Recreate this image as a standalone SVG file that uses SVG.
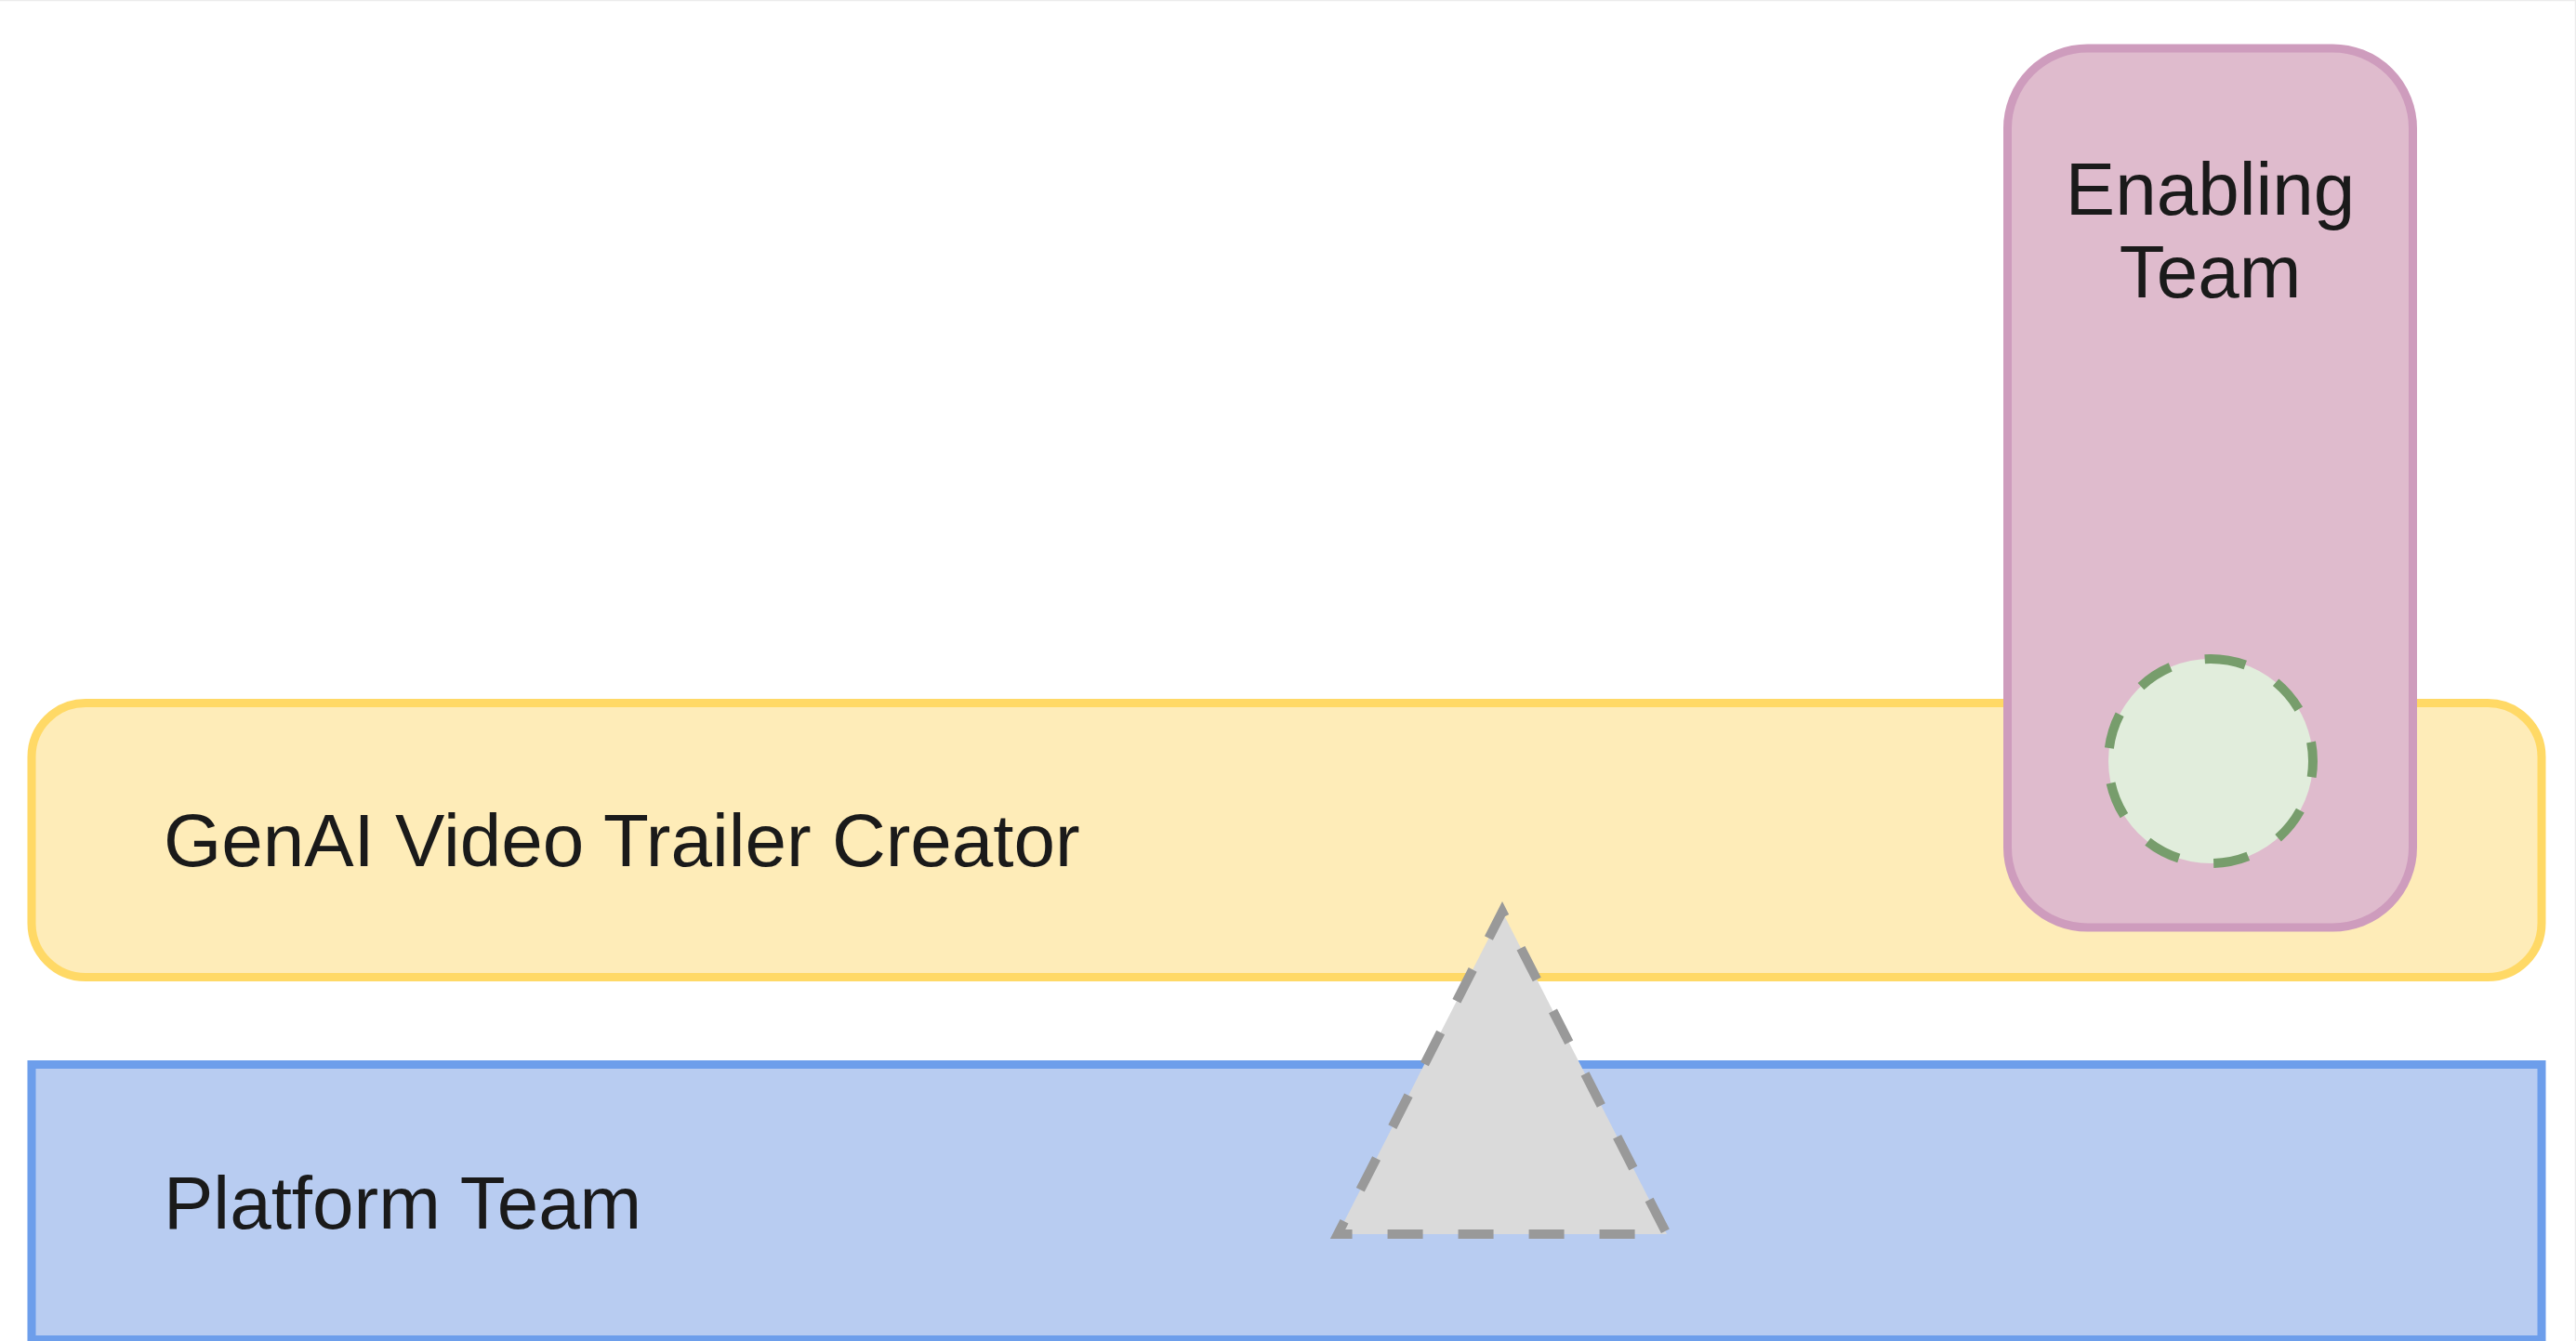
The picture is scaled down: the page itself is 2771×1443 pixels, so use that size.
<svg xmlns="http://www.w3.org/2000/svg" width="2771" height="1443" viewBox="0 0 2771 1443">
  <style>
    .lbl { font-family: "Liberation Sans", Arial, sans-serif; font-size: 80px; fill: #1a1a1a; }
    .stream { fill: #FEECB8; stroke: #FFD966; stroke-width: 9; }
    .platform { fill: #B8CCF1; stroke: #6D9EEB; stroke-width: 9; }
    .enabling { fill: #DFBBCD; stroke: #CE9CBD; stroke-width: 9; }
    .facilitating { fill: #E1EDDC; stroke: #779D6C; stroke-width: 10; stroke-dasharray: 38 38; }
    .xaas { fill: #DADADA; stroke: #999999; stroke-width: 10; stroke-dasharray: 38 38; stroke-dashoffset: 22.5; }
  </style>
  <rect x="0" y="0" width="2771" height="1443" fill="#ffffff"/>
  <path d="M0 0.5 H2770.5 V1443" fill="none" stroke="#ececec" stroke-width="1.5"/>

  <g id="stream-aligned">
    <rect class="stream" x="34" y="756.5" width="2700" height="295" rx="58" ry="58"/>
    <text class="lbl" x="176" y="932">GenAI Video Trailer Creator</text>
  </g>

  <g id="platform-team">
    <rect class="platform" x="34" y="1145.5" width="2700" height="296"/>
    <text class="lbl" x="176" y="1322">Platform Team</text>
  </g>

  <g id="enabling-team">
    <rect class="enabling" x="2159.5" y="52" width="436" height="946" rx="86" ry="86"/>
    <text class="lbl" x="2377.5" y="231" text-anchor="middle">Enabling</text>
    <text class="lbl" x="2377.5" y="320" text-anchor="middle">Team</text>
  </g>

  <g id="connectors">
    <g id="facilitating">
      <path class="facilitating" d="M2378 709 A110 110 0 1 1 2378 929 A110 110 0 1 1 2378 709 Z"/>
    </g>
    <g id="x-as-a-service">
      <path class="xaas" d="M1439 1328 L1616 981 L1793 1328 Z"/>
    </g>
  </g>
</svg>
